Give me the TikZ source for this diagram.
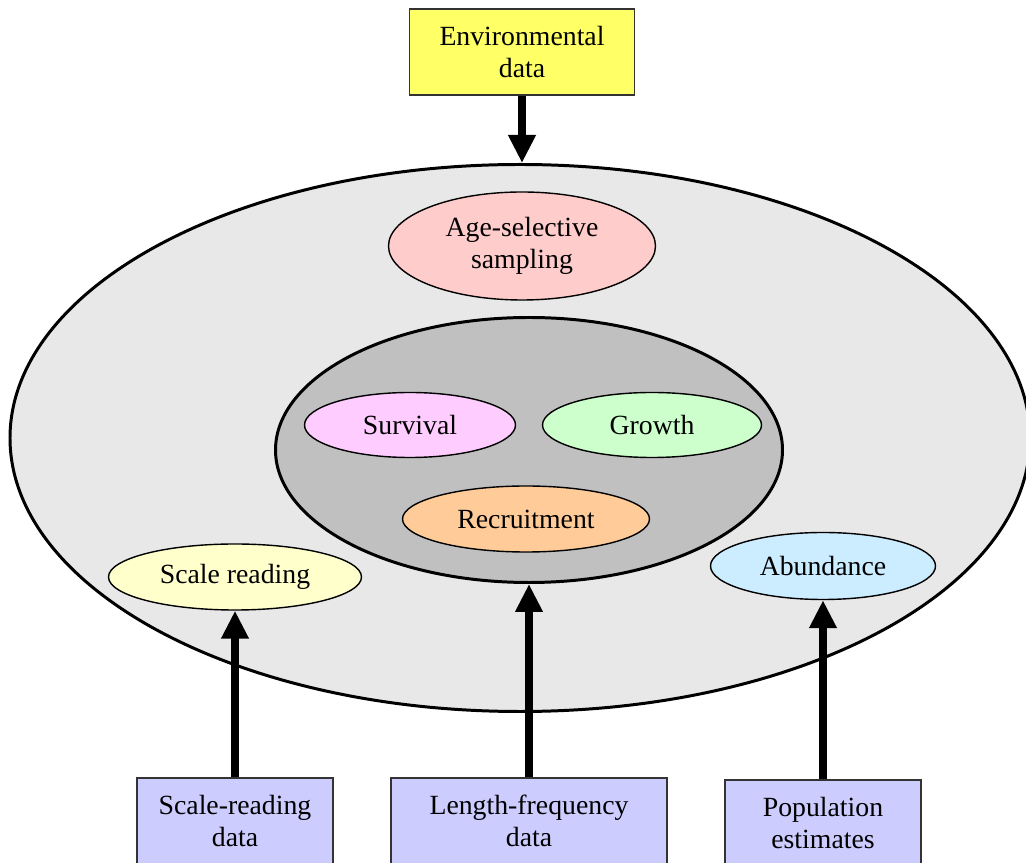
\documentclass[tikz,border=0pt]{standalone}
\usepackage{fontspec}
\setmainfont{Liberation Serif}
\usetikzlibrary{shapes.geometric, arrows.meta, positioning}
\definecolor{envcolor}{RGB}{255, 255, 102}
\definecolor{inputcolor}{RGB}{204, 204, 255}
\definecolor{outercolor}{RGB}{232, 232, 232}
\definecolor{corecolor}{RGB}{192, 192, 192}
\definecolor{agecolor}{RGB}{255, 204, 204}
\definecolor{survcolor}{RGB}{255, 204, 255}
\definecolor{growcolor}{RGB}{204, 255, 204}
\definecolor{recrcolor}{RGB}{255, 204, 153}
\definecolor{scalecolor}{RGB}{255, 255, 204}
\definecolor{abundcolor}{RGB}{204, 236, 255}
\tikzstyle{databox} = [
    rectangle,
    minimum height=1.72cm,
    align=center,
    draw=black!80,
    line width=0.6pt
]
\tikzstyle{region} = [
    ellipse,
    inner sep=0pt,
    draw=black,
    line width=1.7pt
]
\tikzstyle{process} = [
    ellipse,
    inner sep=0pt,
    align=center,
    draw=black,
    line width=0.8pt
]
\tikzstyle{arrow} = [
    -{Triangle[width=0.52cm, length=0.56cm]},
    line width=4pt,
    color=black
]

\begin{document}
\begin{tikzpicture}[font=\fontsize{15.8}{18.2}\selectfont]
\useasboundingbox (0, 0) rectangle (20.52, 17.26);

% Environmental input at the top
\node[databox, fill=envcolor, minimum width=4.5cm] (envdata) at (10.44, 16.22) {Environmental\\data};

% Outer model region
\node[region, fill=outercolor, minimum width=20.4cm, minimum height=10.94cm] (outer) at (10.40, 8.50) {};
\node[process, fill=agecolor, minimum width=5.34cm, minimum height=2.16cm] (agesel) at (10.44, 12.34) {Age-selective\\sampling};

% Core population dynamics
\node[region, fill=corecolor, minimum width=10.14cm, minimum height=5.3cm] (core) at (10.58, 8.26) {};
\node[process, fill=survcolor, minimum width=4.22cm, minimum height=1.3cm] (survival) at (8.20, 8.76) {Survival};
\node[process, fill=growcolor, minimum width=4.38cm, minimum height=1.3cm] (growth) at (13.04, 8.76) {Growth};
\node[process, fill=recrcolor, minimum width=4.94cm, minimum height=1.32cm] (recruit) at (10.52, 6.88) {Recruitment};

% Observation processes
\node[process, fill=scalecolor, minimum width=5.06cm, minimum height=1.32cm] (scaleread) at (4.70, 5.72) {Scale reading};
\node[process, fill=abundcolor, minimum width=4.5cm, minimum height=1.34cm] (abundance) at (16.46, 5.94) {Abundance};

% Data inputs at the bottom
\node[databox, fill=inputcolor, minimum width=3.92cm] (scaledata) at (4.70, 0.84) {Scale-reading\\data};
\node[databox, fill=inputcolor, minimum width=5.52cm] (lfdata) at (10.58, 0.84) {Length-frequency\\data};
\node[databox, fill=inputcolor, minimum width=3.92cm] (popest) at (16.46, 0.80) {Population\\estimates};

% Arrows
\draw[arrow] (envdata.south) -- (envdata.south |- outer.north);
\draw[arrow] (scaledata.north) -- (scaleread.south);
\draw[arrow] (lfdata.north) -- (lfdata.north |- core.south);
\draw[arrow] (popest.north) -- (abundance.south);

\end{tikzpicture}
\end{document}
